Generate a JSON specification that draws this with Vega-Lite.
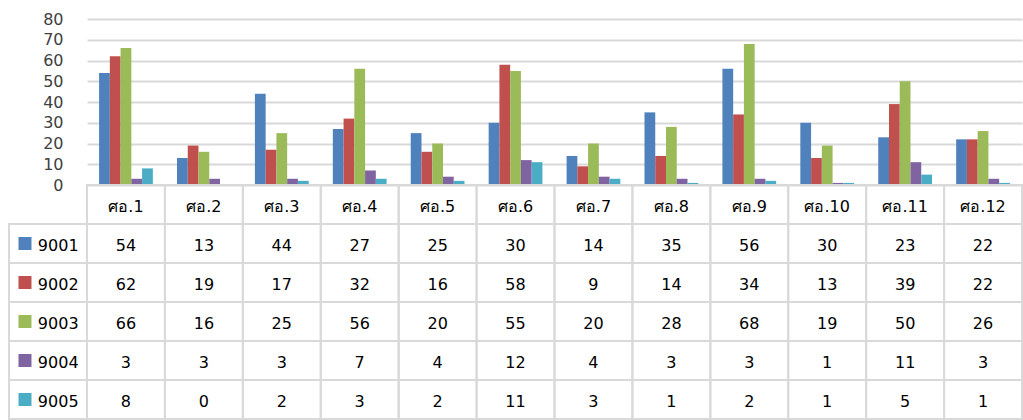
{
  "$schema": "https://vega.github.io/schema/vega-lite/v6.json",
  "background": "white",
  "padding": {"left": 8, "top": 11, "right": 0, "bottom": 0},
  "spacing": 0,
  "bounds": "flush",
  "columns": 2,
  "config": {"view": {"stroke": null}, "font": "DejaVu Sans"},
  "datasets": {
    "t": [
      {"c": "ศอ.1", "s": "9001", "v": 54}, {"c": "ศอ.2", "s": "9001", "v": 13}, {"c": "ศอ.3", "s": "9001", "v": 44}, {"c": "ศอ.4", "s": "9001", "v": 27}, {"c": "ศอ.5", "s": "9001", "v": 25}, {"c": "ศอ.6", "s": "9001", "v": 30}, {"c": "ศอ.7", "s": "9001", "v": 14}, {"c": "ศอ.8", "s": "9001", "v": 35}, {"c": "ศอ.9", "s": "9001", "v": 56}, {"c": "ศอ.10", "s": "9001", "v": 30}, {"c": "ศอ.11", "s": "9001", "v": 23}, {"c": "ศอ.12", "s": "9001", "v": 22},
      {"c": "ศอ.1", "s": "9002", "v": 62}, {"c": "ศอ.2", "s": "9002", "v": 19}, {"c": "ศอ.3", "s": "9002", "v": 17}, {"c": "ศอ.4", "s": "9002", "v": 32}, {"c": "ศอ.5", "s": "9002", "v": 16}, {"c": "ศอ.6", "s": "9002", "v": 58}, {"c": "ศอ.7", "s": "9002", "v": 9}, {"c": "ศอ.8", "s": "9002", "v": 14}, {"c": "ศอ.9", "s": "9002", "v": 34}, {"c": "ศอ.10", "s": "9002", "v": 13}, {"c": "ศอ.11", "s": "9002", "v": 39}, {"c": "ศอ.12", "s": "9002", "v": 22},
      {"c": "ศอ.1", "s": "9003", "v": 66}, {"c": "ศอ.2", "s": "9003", "v": 16}, {"c": "ศอ.3", "s": "9003", "v": 25}, {"c": "ศอ.4", "s": "9003", "v": 56}, {"c": "ศอ.5", "s": "9003", "v": 20}, {"c": "ศอ.6", "s": "9003", "v": 55}, {"c": "ศอ.7", "s": "9003", "v": 20}, {"c": "ศอ.8", "s": "9003", "v": 28}, {"c": "ศอ.9", "s": "9003", "v": 68}, {"c": "ศอ.10", "s": "9003", "v": 19}, {"c": "ศอ.11", "s": "9003", "v": 50}, {"c": "ศอ.12", "s": "9003", "v": 26},
      {"c": "ศอ.1", "s": "9004", "v": 3}, {"c": "ศอ.2", "s": "9004", "v": 3}, {"c": "ศอ.3", "s": "9004", "v": 3}, {"c": "ศอ.4", "s": "9004", "v": 7}, {"c": "ศอ.5", "s": "9004", "v": 4}, {"c": "ศอ.6", "s": "9004", "v": 12}, {"c": "ศอ.7", "s": "9004", "v": 4}, {"c": "ศอ.8", "s": "9004", "v": 3}, {"c": "ศอ.9", "s": "9004", "v": 3}, {"c": "ศอ.10", "s": "9004", "v": 1}, {"c": "ศอ.11", "s": "9004", "v": 11}, {"c": "ศอ.12", "s": "9004", "v": 3},
      {"c": "ศอ.1", "s": "9005", "v": 8}, {"c": "ศอ.2", "s": "9005", "v": 0}, {"c": "ศอ.3", "s": "9005", "v": 2}, {"c": "ศอ.4", "s": "9005", "v": 3}, {"c": "ศอ.5", "s": "9005", "v": 2}, {"c": "ศอ.6", "s": "9005", "v": 11}, {"c": "ศอ.7", "s": "9005", "v": 3}, {"c": "ศอ.8", "s": "9005", "v": 1}, {"c": "ศอ.9", "s": "9005", "v": 2}, {"c": "ศอ.10", "s": "9005", "v": 1}, {"c": "ศอ.11", "s": "9005", "v": 5}, {"c": "ศอ.12", "s": "9005", "v": 1}
    ]
  },
  "concat": [
    {
      "width": 78,
      "height": 166,
      "data": {"values": []},
      "mark": {"type": "point"},
      "encoding": {}
    },
    {
      "width": 935,
      "height": 166,
      "data": {"name": "t"},
      "mark": {"type": "bar"},
      "encoding": {
        "x": {"field": "c", "type": "nominal", "axis": null,
              "scale": {"domain": ["ศอ.1","ศอ.2","ศอ.3","ศอ.4","ศอ.5","ศอ.6","ศอ.7","ศอ.8","ศอ.9","ศอ.10","ศอ.11","ศอ.12"], "paddingInner": 0.31, "paddingOuter": 0.155}},
        "xOffset": {"field": "s", "type": "nominal", "scale": {"domain": ["9001","9002","9003","9004","9005"], "paddingInner": 0, "paddingOuter": 0}},
        "y": {"field": "v", "type": "quantitative",
              "scale": {"domain": [0, 80], "nice": false},
              "axis": {"values": [0,10,20,30,40,50,60,70,80], "title": null, "grid": true, "gridColor": "#d9d9d9", "gridWidth": 2, "domain": false, "ticks": false, "tickSize": 0, "labelPadding": 24, "labelFontSize": 16, "labelFont": "DejaVu Sans", "labelColor": "#404040"}},
        "color": {"field": "s", "type": "nominal", "legend": null,
                  "scale": {"domain": ["9001","9002","9003","9004","9005"], "range": ["#4f81bd","#c0504d","#9bbb59","#8064a2","#4bacc6"]}}
      }
    },
    {
      "width": 78,
      "height": 234,
      "data": {"name": "t"},
      "transform": [{"filter": "datum.c === 'ศอ.1'"}],
      "encoding": {
        "y": {"field": "s", "type": "nominal", "axis": null,
              "scale": {"domain": ["hdr","9001","9002","9003","9004","9005"], "paddingInner": 0, "paddingOuter": 0}}
      },
      "layer": [
        {"mark": {"type": "rect", "filled": false, "stroke": "#d9d9d9", "strokeWidth": 2},
         "encoding": {"x": {"datum": "lbl", "type": "nominal", "axis": null, "scale": {"domain": ["lbl"], "paddingInner": 0, "paddingOuter": 0}}}},
        {"mark": {"type": "point", "shape": "square", "filled": true, "size": 169, "opacity": 1},
         "encoding": {"x": {"datum": "lbl", "type": "nominal", "bandPosition": 0.205},
                      "color": {"field": "s", "type": "nominal", "legend": null,
                                "scale": {"domain": ["9001","9002","9003","9004","9005"], "range": ["#4f81bd","#c0504d","#9bbb59","#8064a2","#4bacc6"]}}}},
        {"mark": {"type": "text", "fontSize": 16, "font": "DejaVu Sans", "color": "#000000", "align": "left", "dy": 2},
         "encoding": {"x": {"datum": "lbl", "type": "nominal", "bandPosition": 0.37}, "text": {"field": "s", "type": "nominal"}}}
      ]
    },
    {
      "width": 935,
      "height": 234,
      "data": {"name": "t"},
      "encoding": {
        "x": {"field": "c", "type": "nominal", "axis": null,
              "scale": {"domain": ["ศอ.1","ศอ.2","ศอ.3","ศอ.4","ศอ.5","ศอ.6","ศอ.7","ศอ.8","ศอ.9","ศอ.10","ศอ.11","ศอ.12"], "paddingInner": 0, "paddingOuter": 0}},
        "y": {"field": "s", "type": "nominal", "axis": null,
              "scale": {"domain": ["hdr","9001","9002","9003","9004","9005"], "paddingInner": 0, "paddingOuter": 0}}
      },
      "layer": [
        {"mark": {"type": "rect", "filled": false, "stroke": "#d9d9d9", "strokeWidth": 2}},
        {"mark": {"type": "text", "fontSize": 16, "font": "DejaVu Sans", "color": "#000000", "dy": 2},
         "encoding": {"text": {"field": "v", "type": "quantitative"}}},
        {"transform": [{"filter": "datum.s === '9001'"}],
         "mark": {"type": "rect", "filled": false, "stroke": "#d9d9d9", "strokeWidth": 2},
         "encoding": {"y": {"datum": "hdr", "type": "nominal"}}},
        {"transform": [{"filter": "datum.s === '9001'"}],
         "mark": {"type": "text", "fontSize": 16, "font": "DejaVu Sans", "color": "#000000", "dy": 2},
         "encoding": {"y": {"datum": "hdr", "type": "nominal"}, "text": {"field": "c", "type": "nominal"}}}
      ]
    }
  ]
}
